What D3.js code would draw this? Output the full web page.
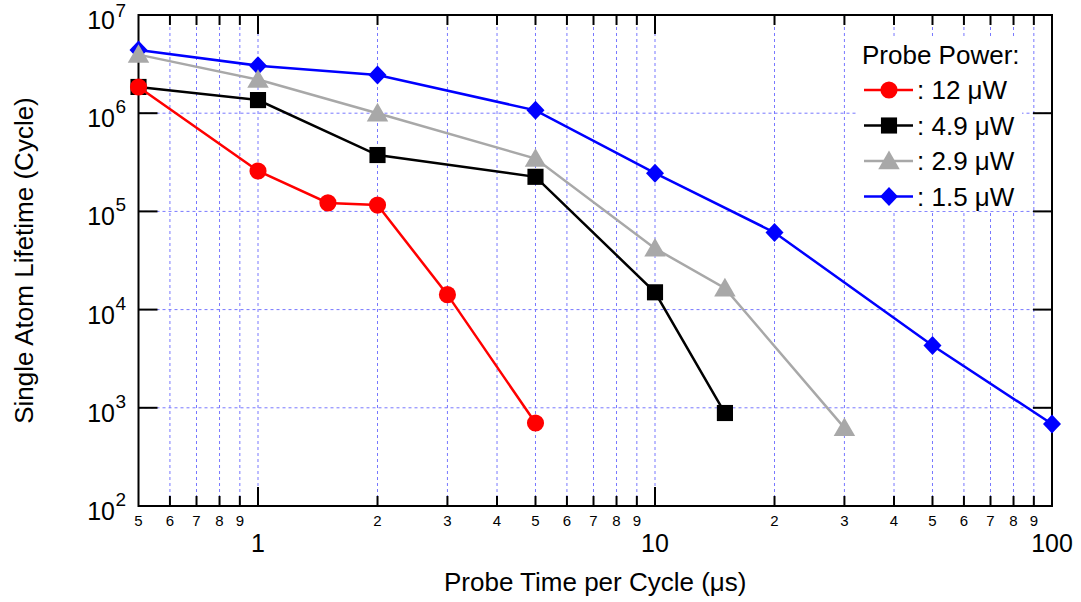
<!DOCTYPE html>
<html>
<head>
<meta charset="utf-8">
<script src="https://cdn.jsdelivr.net/npm/d3@7"></script>
<style>
  html, body { margin: 0; padding: 0; background: #fff; }
  svg { display: block; font-family: "Liberation Sans", Arial, sans-serif; }
</style>
</head>
<body>
<svg id="chart" width="1081" height="602"></svg>
<script>
// ---- data ----
const seriesNames = [": 12 \u03bcW", ": 4.9 \u03bcW", ": 2.9 \u03bcW", ": 1.5 \u03bcW"];
const x12 = [0.5, 1, 1.5, 2, 3, 5];
const y12 = [1.85e6, 2.58e5, 1.22e5, 1.16e5, 1.42e4, 700];
const x49 = [0.5, 1, 2, 5, 10, 15];
const y49 = [1.85e6, 1.36e6, 3.75e5, 2.25e5, 1.5e4, 885];
const x29 = [0.5, 1, 2, 5, 10, 15, 30];
const y29 = [3.95e6, 2.2e6, 1.0e6, 3.45e5, 4.2e4, 1.65e4, 625];
const x15 = [0.5, 1, 2, 5, 10, 20, 50, 100];
const y15 = [4.4e6, 3.05e6, 2.45e6, 1.07e6, 2.45e5, 6.1e4, 4.3e3, 685];

const xMinorTicks = [0.5, 0.6, 0.7, 0.8, 0.9, 2, 3, 4, 5, 6, 7, 8, 9, 20, 30, 40, 50, 60, 70, 80, 90];
const xMinorLabels = ["5", "6", "7", "8", "9", "2", "3", "4", "5", "6", "7", "8", "9", "2", "3", "4", "5", "6", "7", "8", "9"];
const xMajorTicks = [1, 10, 100];
const xMajorLabels = ["1", "10", "100"];
const yTicks = [1e2, 1e3, 1e4, 1e5, 1e6, 1e7];
const yTickExponents = ["2", "3", "4", "5", "6", "7"];

const legendTitle = "Probe Power:";
const xTitle = "Probe Time per Cycle (\u03bcs)";
const yTitle = "Single Atom Lifetime (Cycle)";

// ---- layout ----
const L = 138.5, R = 1052, T = 15, B = 506;
const svg = d3.select("#chart");
const x = d3.scaleLog().domain([0.5, 100]).range([L, R]);
const y = d3.scaleLog().domain([1e2, 1e7]).range([B, T]);

// grid
const grid = svg.append("g").attr("stroke", "#7878ff").attr("stroke-width", 1)
  .attr("stroke-dasharray", "3,3").attr("fill", "none");
xMinorTicks.concat(xMajorTicks).filter(v => v > 0.5 && v < 100).forEach(v => {
  grid.append("line").attr("x1", x(v)).attr("x2", x(v)).attr("y1", T).attr("y2", B);
});
yTicks.filter(v => v > 1e2 && v < 1e7).forEach(v => {
  grid.append("line").attr("x1", L).attr("x2", R).attr("y1", y(v)).attr("y2", y(v));
});

// legend background (hides grid)
svg.append("rect").attr("x", 858).attr("y", 37).attr("width", 164).attr("height", 174).attr("fill", "#fff");

// ticks
const tk = svg.append("g").attr("stroke", "#000").attr("stroke-width", 2);
xMinorTicks.forEach(v => {
  if (v === 0.5) return;
  tk.append("line").attr("x1", x(v)).attr("x2", x(v)).attr("y1", B).attr("y2", B - 10);
  tk.append("line").attr("x1", x(v)).attr("x2", x(v)).attr("y1", T).attr("y2", T + 10);
});
xMajorTicks.forEach(v => {
  tk.append("line").attr("x1", x(v)).attr("x2", x(v)).attr("y1", B).attr("y2", B - 19);
  tk.append("line").attr("x1", x(v)).attr("x2", x(v)).attr("y1", T).attr("y2", T + 19);
});
yTicks.forEach(v => {
  tk.append("line").attr("x1", L).attr("x2", L + 19).attr("y1", y(v)).attr("y2", y(v));
  tk.append("line").attr("x1", R).attr("x2", R - 19).attr("y1", y(v)).attr("y2", y(v));
});

// frame
svg.append("rect").attr("x", L).attr("y", T).attr("width", R - L).attr("height", B - T)
  .attr("fill", "none").attr("stroke", "#000").attr("stroke-width", 2);

// tick labels
const lab = svg.append("g").attr("fill", "#000");
xMinorTicks.forEach((v, i) => {
  lab.append("text").attr("x", x(v)).attr("y", 526).attr("text-anchor", "middle")
    .attr("font-size", 15).text(xMinorLabels[i]);
});
xMajorTicks.forEach((v, i) => {
  lab.append("text").attr("x", x(v)).attr("y", 552).attr("text-anchor", "middle")
    .attr("font-size", 25).text(xMajorLabels[i]);
});
yTicks.forEach((v, i) => {
  lab.append("text").attr("x", 115).attr("y", y(v) + 14).attr("text-anchor", "end")
    .attr("font-size", 25).text("10");
  lab.append("text").attr("x", 115.5).attr("y", Math.max(y(v), 17)).attr("text-anchor", "start")
    .attr("font-size", 19).text(yTickExponents[i]);
});

// axis titles
svg.append("text").attr("x", (L + R) / 2).attr("y", 591).attr("text-anchor", "middle")
  .attr("font-size", 26).text(xTitle);
svg.append("text").attr("transform", `translate(33,${(T + B) / 2}) rotate(-90)`)
  .attr("text-anchor", "middle").attr("font-size", 26).text(yTitle);

// series
const series = [
  { name: seriesNames[0], xs: x12, ys: y12, color: "#ff0000", shape: "circle" },
  { name: seriesNames[1], xs: x49, ys: y49, color: "#000000", shape: "square" },
  { name: seriesNames[2], xs: x29, ys: y29, color: "#a8a8a8", shape: "triangle" },
  { name: seriesNames[3], xs: x15, ys: y15, color: "#0000ff", shape: "diamond" }
];
const diamondPath = "M0,-9.5L9,0L0,9.5L-9,0Z";
const symbolFor = {
  circle: () => d3.symbol().type(d3.symbolCircle).size(230)(),
  square: () => d3.symbol().type(d3.symbolSquare).size(260)(),
  triangle: () => d3.symbol().type(d3.symbolTriangle).size(200)(),
  diamond: () => diamondPath
};
const line = d3.line().x(d => x(d[0])).y(d => y(d[1]));
series.slice().reverse().forEach(s => {
  const pts = s.xs.map((v, i) => [v, s.ys[i]]);
  const g = svg.append("g");
  g.append("path").attr("d", line(pts)).attr("fill", "none").attr("stroke", s.color).attr("stroke-width", 2.5);
  g.selectAll("path.m").data(pts).enter().append("path").attr("class", "m")
    .attr("d", symbolFor[s.shape]())
    .attr("transform", d => `translate(${x(d[0])},${y(d[1]) + (s.shape === "triangle" ? 2 : 0)})`)
    .attr("fill", s.color);
});

// legend
const lg = svg.append("g");
lg.append("text").attr("x", 862).attr("y", 64).attr("font-size", 26).text(legendTitle);
series.forEach((s, i) => {
  const cy = 90 + i * 35.5;
  lg.append("line").attr("x1", 864).attr("x2", 913).attr("y1", cy).attr("y2", cy)
    .attr("stroke", s.color).attr("stroke-width", 2.5);
  lg.append("path").attr("d", symbolFor[s.shape]())
    .attr("transform", `translate(889,${cy + (s.shape === "triangle" ? 2 : 0)})`).attr("fill", s.color);
  lg.append("text").attr("x", 917).attr("y", cy + 9).attr("font-size", 26).text(s.name);
});
</script>
</body>
</html>
